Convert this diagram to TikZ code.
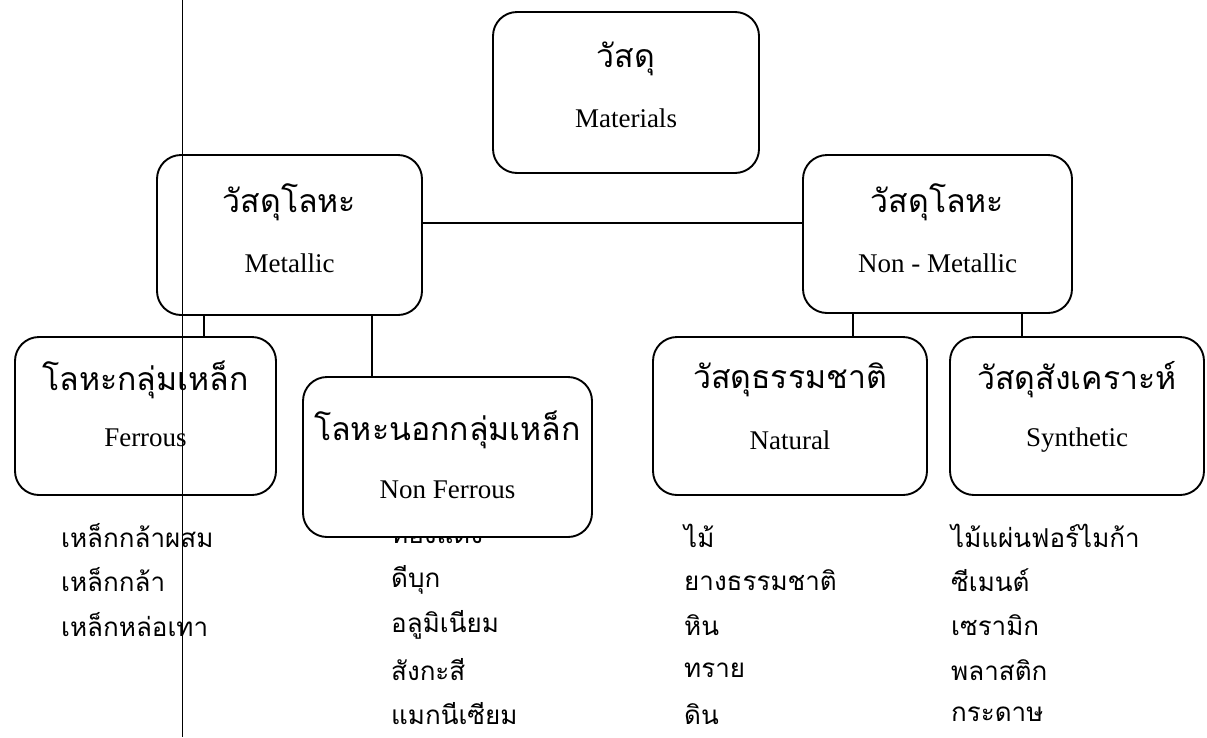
\documentclass[tikz,border=0pt]{standalone}
\usepackage{fontspec}
\setmainfont{Liberation Serif}
\newfontfamily\thai[Script=Thai]{Loma}
\begin{document}
\begin{tikzpicture}[x=1pt,y=-1pt,
  box/.style={draw, line width=1.9pt, rounded corners=24pt, fill=white, inner sep=0pt, outer sep=0pt},
  tt/.style={font=\thai\fontsize{32}{38}\selectfont, inner sep=0pt},
  et/.style={font=\fontsize{27}{32}\selectfont, inner sep=0pt},
  li/.style={font=\thai\fontsize{26}{30}\selectfont, inner sep=0pt, anchor=west},
  conn/.style={line width=1.9pt},
  scanline/.style={line width=0.8pt}]
\useasboundingbox (0,0) rectangle (1207,737);
% lists (drawn first so the Non Ferrous box can cover its first item)
\node[li] (f1) at (61,536) {เหล็กกล้าผสม};
\node[li] (f2) at (61,580) {เหล็กกล้า};
\node[li] (f3) at (61,625) {เหล็กหล่อเทา};
\node[li] (n1) at (391,536) {ทองแดง};
\node[li] (n2) at (391,580) {ดีบุก};
\node[li] (n3) at (391,625) {อลูมิเนียม};
\node[li] (n4) at (391,670) {สังกะสี};
\node[li] (n5) at (391,714) {แมกนีเซียม};
\node[li] (a1) at (684,536) {ไม้};
\node[li] (a2) at (684,580) {ยางธรรมชาติ};
\node[li] (a3) at (684,625) {หิน};
\node[li] (a4) at (684,670) {ทราย};
\node[li] (a5) at (684,714) {ดิน};
\node[li] (s1) at (951,536) {ไม้แผ่นฟอร์ไมก้า};
\node[li] (s2) at (951,580) {ซีเมนต์};
\node[li] (s3) at (951,625) {เซรามิก};
\node[li] (s4) at (951,670) {พลาสติก};
\node[li] (s5) at (951,714) {กระดาษ};
% boxes
\node[box, minimum width=266pt, minimum height=161pt] (mat) at (626,92.5) {};
\node[box, minimum width=265pt, minimum height=160pt] (met) at (289.5,235) {};
\node[box, minimum width=269pt, minimum height=158pt] (nmet) at (937.5,234) {};
\node[box, minimum width=261pt, minimum height=158pt] (fer) at (145.5,416) {};
\node[box, minimum width=289pt, minimum height=160pt] (nfer) at (447.5,457) {};
\node[box, minimum width=274pt, minimum height=158pt] (nat) at (790,416) {};
\node[box, minimum width=254pt, minimum height=158pt] (syn) at (1077,416) {};
% box texts
\node[tt] (matT) at (626,59) {วัสดุ};
\node[et] (matE) at (626,118) {Materials};
\node[tt] (metT) at (289.5,202) {วัสดุโลหะ};
\node[et] (metE) at (289.5,263) {Metallic};
\node[tt] (nmetT) at (937.5,202) {วัสดุโลหะ};
\node[et] (nmetE) at (937.5,263) {Non - Metallic};
\node[tt] (ferT) at (145.5,380) {โลหะกลุ่มเหล็ก};
\node[et] (ferE) at (145.5,438) {Ferrous};
\node[tt] (nferT) at (447.5,430) {โลหะนอกกลุ่มเหล็ก};
\node[et] (nferE) at (447.5,490) {Non Ferrous};
\node[tt] (natT) at (790,380) {วัสดุธรรมชาติ};
\node[et] (natE) at (790,440) {Natural};
\node[tt] (synT) at (1077,380) {วัสดุสังเคราะห์};
\node[et] (synE) at (1077,440) {Synthetic};
% connectors
\coordinate (cA) at (204,0);
\coordinate (cB) at (372,0);
\coordinate (cC) at (853,0);
\coordinate (cD) at (1022,0);
\coordinate (hL) at (0,223);
\draw[conn] (met.east |- hL) -- (nmet.west |- hL);
\draw[conn] (met.south -| cA) -- (fer.north -| cA);
\draw[conn] (met.south -| cB) -- (nfer.north -| cB);
\draw[conn] (nmet.south -| cC) -- (nat.north -| cC);
\draw[conn] (nmet.south -| cD) -- (syn.north -| cD);
% scan line
\coordinate (scT) at (182,0);
\coordinate (scB) at (182,737);
\draw[scanline] (scT) -- (scB);
\end{tikzpicture}
\end{document}
